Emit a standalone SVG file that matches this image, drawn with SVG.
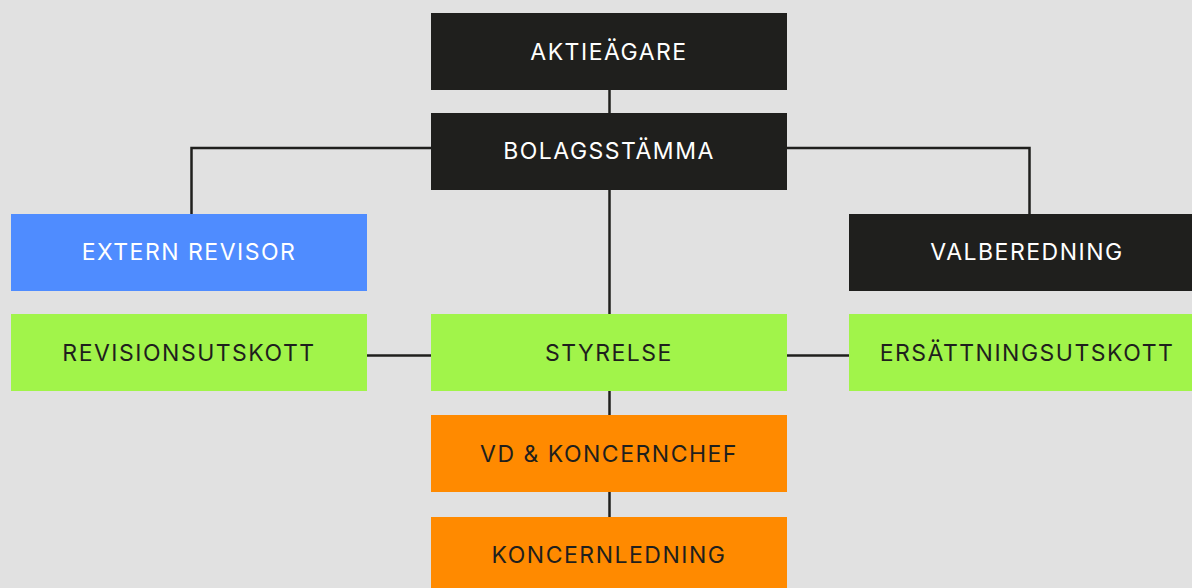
<svg xmlns="http://www.w3.org/2000/svg" width="1192" height="588" viewBox="0 0 1192 588">
<style>
.bg{fill:#e1e1e1}
.dark{fill:#1f1f1d}
.blue{fill:#4f8cff}
.green{fill:#a1f44a}
.orange{fill:#ff8a00}
text{font-family:Inter,"Liberation Sans",sans-serif;font-size:23px;letter-spacing:1.5px;text-anchor:middle}
.lt{fill:#ffffff}
.dt{fill:#1f1f1d}
.conn{fill:none;stroke:#1f1f1d;stroke-width:2.5}
</style>
<rect class="bg" x="0" y="0" width="1192" height="588"/>
<g id="connectors">
<path class="conn" d="M609.5 90V113"/>
<path class="conn" d="M609.5 190V314"/>
<path class="conn" d="M431 148H191.5V214"/>
<path class="conn" d="M787 148H1029.5V214"/>
<path class="conn" d="M367 355.5H431"/>
<path class="conn" d="M787 355.5H849"/>
<path class="conn" d="M609.5 391V415"/>
<path class="conn" d="M609.5 492V517"/>
</g>
<g id="aktieagare"><rect class="dark" x="431" y="13" width="356" height="77"/><text class="lt" x="609" y="59.5">AKTIEÄGARE</text></g>
<g id="bolagsstamma"><rect class="dark" x="431" y="113" width="356" height="77"/><text class="lt" x="609" y="159">BOLAGSSTÄMMA</text></g>
<g id="extern-revisor"><rect class="blue" x="11" y="214" width="356" height="77"/><text class="lt" x="189" y="259.5">EXTERN REVISOR</text></g>
<g id="valberedning"><rect class="dark" x="849" y="214" width="356" height="77"/><text class="lt" x="1027" y="259.5">VALBEREDNING</text></g>
<g id="revisionsutskott"><rect class="green" x="11" y="314" width="356" height="77"/><text class="dt" x="189" y="360.5">REVISIONSUTSKOTT</text></g>
<g id="styrelse"><rect class="green" x="431" y="314" width="356" height="77"/><text class="dt" x="609" y="360.5">STYRELSE</text></g>
<g id="ersattningsutskott"><rect class="green" x="849" y="314" width="356" height="77"/><text class="dt" x="1027" y="360.5">ERSÄTTNINGSUTSKOTT</text></g>
<g id="vd"><rect class="orange" x="431" y="415" width="356" height="77"/><text class="dt" x="609" y="461.5">VD &amp; KONCERNCHEF</text></g>
<g id="koncernledning"><rect class="orange" x="431" y="517" width="356" height="77"/><text class="dt" x="609" y="563">KONCERNLEDNING</text></g>
</svg>
